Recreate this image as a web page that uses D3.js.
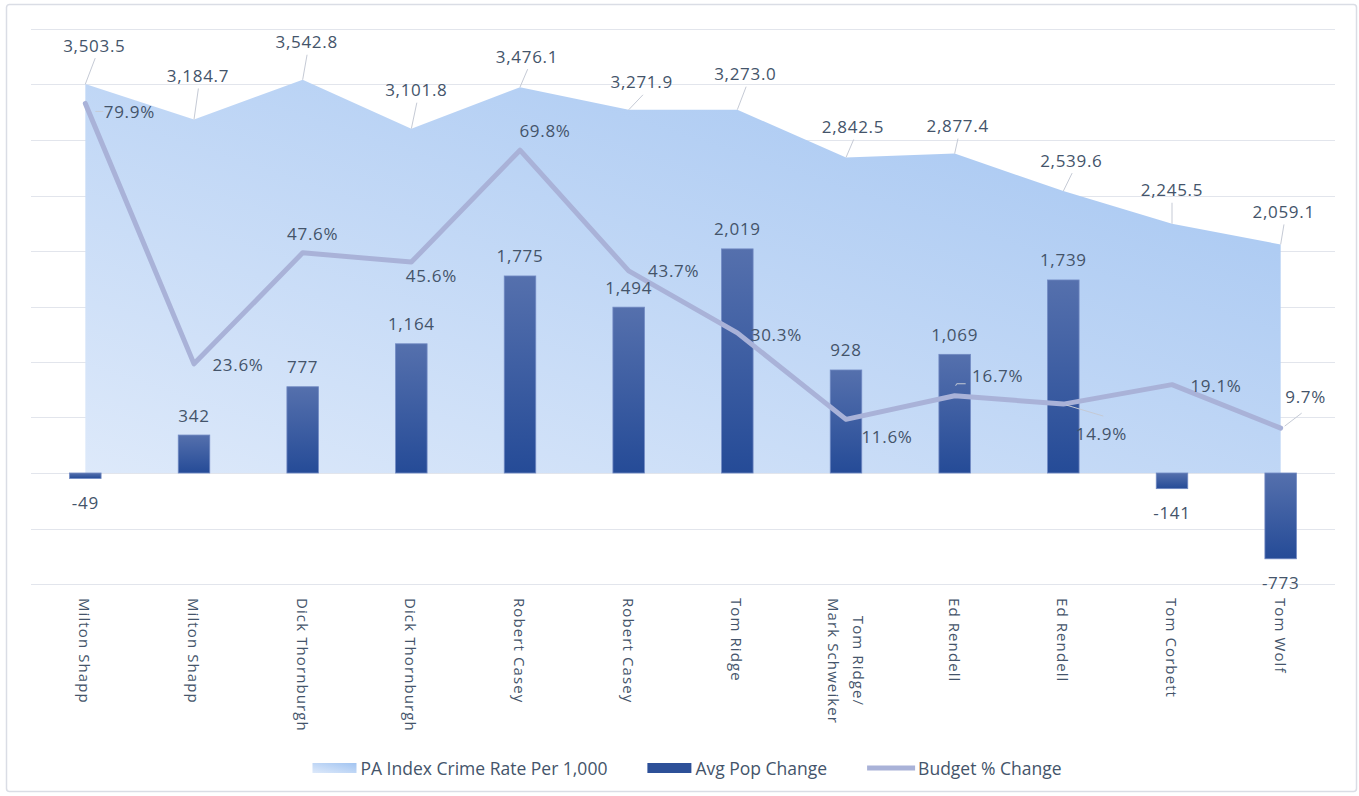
<!DOCTYPE html>
<html>
<head>
<meta charset="utf-8">
<script src="https://cdn.jsdelivr.net/npm/d3@7"></script>
<style>
  body { margin: 0; background: #fff; }
  text { font-family: "Open Sans", "Noto Sans", sans-serif; fill: #44546a; }
</style>
</head>
<body>
<div id="chart"></div>
<script>
// data
const governors = ["Milton Shapp", "Milton Shapp", "Dick Thornburgh", "Dick Thornburgh", "Robert Casey",
  "Robert Casey", "Tom Ridge", "Tom Ridge/\nMark Schweiker", "Ed Rendell", "Ed Rendell", "Tom Corbett", "Tom Wolf"];
const crimeRate = [3503.5, 3184.7, 3542.8, 3101.8, 3476.1, 3271.9, 3273.0, 2842.5, 2877.4, 2539.6, 2245.5, 2059.1];
const popChange = [-49, 342, 777, 1164, 1775, 1494, 2019, 928, 1069, 1739, -141, -773];
const budgetChange = [79.9, 23.6, 47.6, 45.6, 69.8, 43.7, 30.3, 11.6, 16.7, 14.9, 19.1, 9.7];
const seriesNames = ["PA Index Crime Rate Per 1,000", "Avg Pop Change", "Budget % Change"];
const primaryTicks = d3.range(-1000, 4001, 500);

// label placement (offset of the label centre from its point, like Excel's dragged labels)
const crimeLabelPos = [[9,-39],[4,-44],[4,-38],[5,-39],[7,-31],[13,-28],[8,-36],[7,-31],[3,-28],[8,-31],[0,-34],[3,-33]];
const budgetLabelPos = [[44,8],[44,1],[10,-19],[20,13],[25,-20],[45,0],[39,2],[41,17],[43,-20],[38,29],[44,1],[25,-32]];
const budgetLeaders = {0: [[10,8],[18,8]], 8: [[1,-10],[2,-12],[11,-12]], 9: [[3,1],[40,12]], 11: [[4,-2],[21,-15]]};

const W = 1359, H = 796;
const plot = {left: 31, right: 1335, top: 29, bottom: 584};

const svg = d3.select('#chart').append('svg')
  .attr('width', W).attr('height', H);

const defs = svg.append('defs');
const areaGrad = defs.append('linearGradient').attr('id', 'areaGrad')
  .attr('x1', 0).attr('y1', 1).attr('x2', 1).attr('y2', 0);
areaGrad.append('stop').attr('offset', '0%').attr('stop-color', '#dde9fa');
areaGrad.append('stop').attr('offset', '100%').attr('stop-color', '#a2c4f1');
const barGrad = defs.append('linearGradient').attr('id', 'barGrad')
  .attr('x1', 0).attr('y1', 0).attr('x2', 0).attr('y2', 1);
barGrad.append('stop').attr('offset', '0%').attr('stop-color', '#5570ad');
barGrad.append('stop').attr('offset', '100%').attr('stop-color', '#254b97');

// frame
svg.append('rect')
  .attr('x', 6.5).attr('y', 4.5).attr('width', 1350).attr('height', 787).attr('rx', 3)
  .attr('fill', '#fff').attr('stroke', '#dadde5').attr('stroke-width', 1.5);

// scales
const x = d3.scaleBand().domain(d3.range(governors.length)).range([plot.left, plot.right]).padding(0);
const cx = i => x(i) + x.bandwidth() / 2;
const y = d3.scaleLinear().domain([-1000, 4000]).range([plot.bottom, plot.top]);
const y2 = d3.scaleLinear().domain([-24, 96]).range([plot.bottom, plot.top]);
const barW = x.bandwidth() * 0.29;

// gridlines
svg.append('g').selectAll('line').data(primaryTicks).enter().append('line')
  .attr('x1', plot.left).attr('x2', plot.right)
  .attr('y1', d => Math.round(y(d)) + 0.5).attr('y2', d => Math.round(y(d)) + 0.5)
  .attr('stroke', '#e2e5ec').attr('stroke-width', 1);

// crime rate area
const area = d3.area().x((d, i) => cx(i)).y0(y(0)).y1(d => y(d));
svg.append('path').datum(crimeRate)
  .attr('d', area).attr('fill', 'url(#areaGrad)');

// population change bars
svg.append('g').selectAll('rect').data(popChange).enter().append('rect')
  .attr('x', (d, i) => cx(i) - barW / 2)
  .attr('y', d => y(Math.max(0, d)))
  .attr('width', barW)
  .attr('height', d => Math.abs(y(d) - y(0)))
  .attr('fill', 'url(#barGrad)')
  .attr('stroke', '#7189c2').attr('stroke-width', 0.8);

// budget line
const line = d3.line().x((d, i) => cx(i)).y(d => y2(d));
svg.append('path').datum(budgetChange)
  .attr('d', line).attr('fill', 'none')
  .attr('stroke', '#a9b2d8').attr('stroke-width', 5)
  .attr('stroke-linejoin', 'round').attr('stroke-linecap', 'round');

// Excel uses a plain hyphen for negatives
const fmt1 = v => d3.format(',.1f')(v).replace('\u2212', '-');
const fmt0 = v => d3.format(',')(v).replace('\u2212', '-');

// crime rate labels with leader lines
crimeRate.forEach((d, i) => {
  const px = cx(i), py = y(d);
  const lx = px + crimeLabelPos[i][0], ly = py + crimeLabelPos[i][1];
  svg.append('line')
    .attr('x1', px).attr('y1', py)
    .attr('x2', px + crimeLabelPos[i][0] * 1.1).attr('y2', ly + 13)
    .attr('stroke', '#c5cad5').attr('stroke-width', 1);
  svg.append('text')
    .attr('x', lx).attr('y', ly)
    .attr('text-anchor', 'middle').attr('dominant-baseline', 'central')
    .style('font-size', '17px').style('letter-spacing', '0.7px')
    .text(fmt1(d));
});

// bar labels
svg.append('g').selectAll('text').data(popChange).enter().append('text')
  .attr('x', (d, i) => cx(i))
  .attr('y', d => d >= 0 ? y(d) - 20 : y(d) + 24)
  .attr('text-anchor', 'middle').attr('dominant-baseline', 'central')
  .style('font-size', '17px').style('letter-spacing', '0.7px')
  .text(d => fmt0(d));

// budget labels
budgetChange.forEach((d, i) => {
  const px = cx(i), py = y2(d);
  if (budgetLeaders[i]) {
    svg.append('polyline')
      .attr('points', budgetLeaders[i].map(p => [px + p[0], py + p[1]].join(',')).join(' '))
      .attr('fill', 'none').attr('stroke', '#c5cad5').attr('stroke-width', 1);
  }
  svg.append('text')
    .attr('x', px + budgetLabelPos[i][0]).attr('y', py + budgetLabelPos[i][1])
    .attr('text-anchor', 'middle').attr('dominant-baseline', 'central')
    .style('font-size', '17px').style('letter-spacing', '0.7px')
    .text(d.toFixed(1) + '%');
});

// category labels, rotated to read top to bottom
governors.forEach((name, i) => {
  const lines = name.split('\n');
  const t = svg.append('text')
    .attr('transform', `translate(${cx(i)},598) rotate(90)`)
    .style('font-size', '15px').style('letter-spacing', '1.1px');
  const spans = lines.map((ln, k) => t.append('tspan')
    .attr('x', 0)
    .attr('y', (k - (lines.length - 1) / 2) * 25)
    .attr('dominant-baseline', 'central')
    .text(ln));
  const widths = spans.map(s => s.node().getComputedTextLength());
  const maxW = d3.max(widths);
  spans.forEach((s, k) => s.attr('x', (maxW - widths[k]) / 2));
});

// legend
const legend = svg.append('g');
let lx = 0;
seriesNames.forEach((name, k) => {
  const g = legend.append('g');
  if (k === 0) {
    g.append('rect').attr('x', 0).attr('y', -5).attr('width', 44).attr('height', 10).attr('fill', 'url(#areaGrad)');
  } else if (k === 1) {
    g.append('rect').attr('x', 0).attr('y', -5).attr('width', 44).attr('height', 10).attr('fill', '#2d5098');
  } else {
    g.append('line').attr('x1', 0).attr('x2', 48).attr('y1', 0).attr('y2', 0)
      .attr('stroke', '#a9b2d8').attr('stroke-width', 5);
  }
  const sw = k === 2 ? 51 : 48;
  const txt = g.append('text').attr('x', sw).attr('y', 0)
    .attr('dominant-baseline', 'central')
    .style('font-size', '17.5px')
    .text(name);
  const w = sw + txt.node().getComputedTextLength();
  g.attr('transform', `translate(${lx},0)`);
  lx += w + 40;
});
const legendW = lx - 40;
legend.attr('transform', `translate(${687 - legendW / 2},768)`);
</script>
</body>
</html>
